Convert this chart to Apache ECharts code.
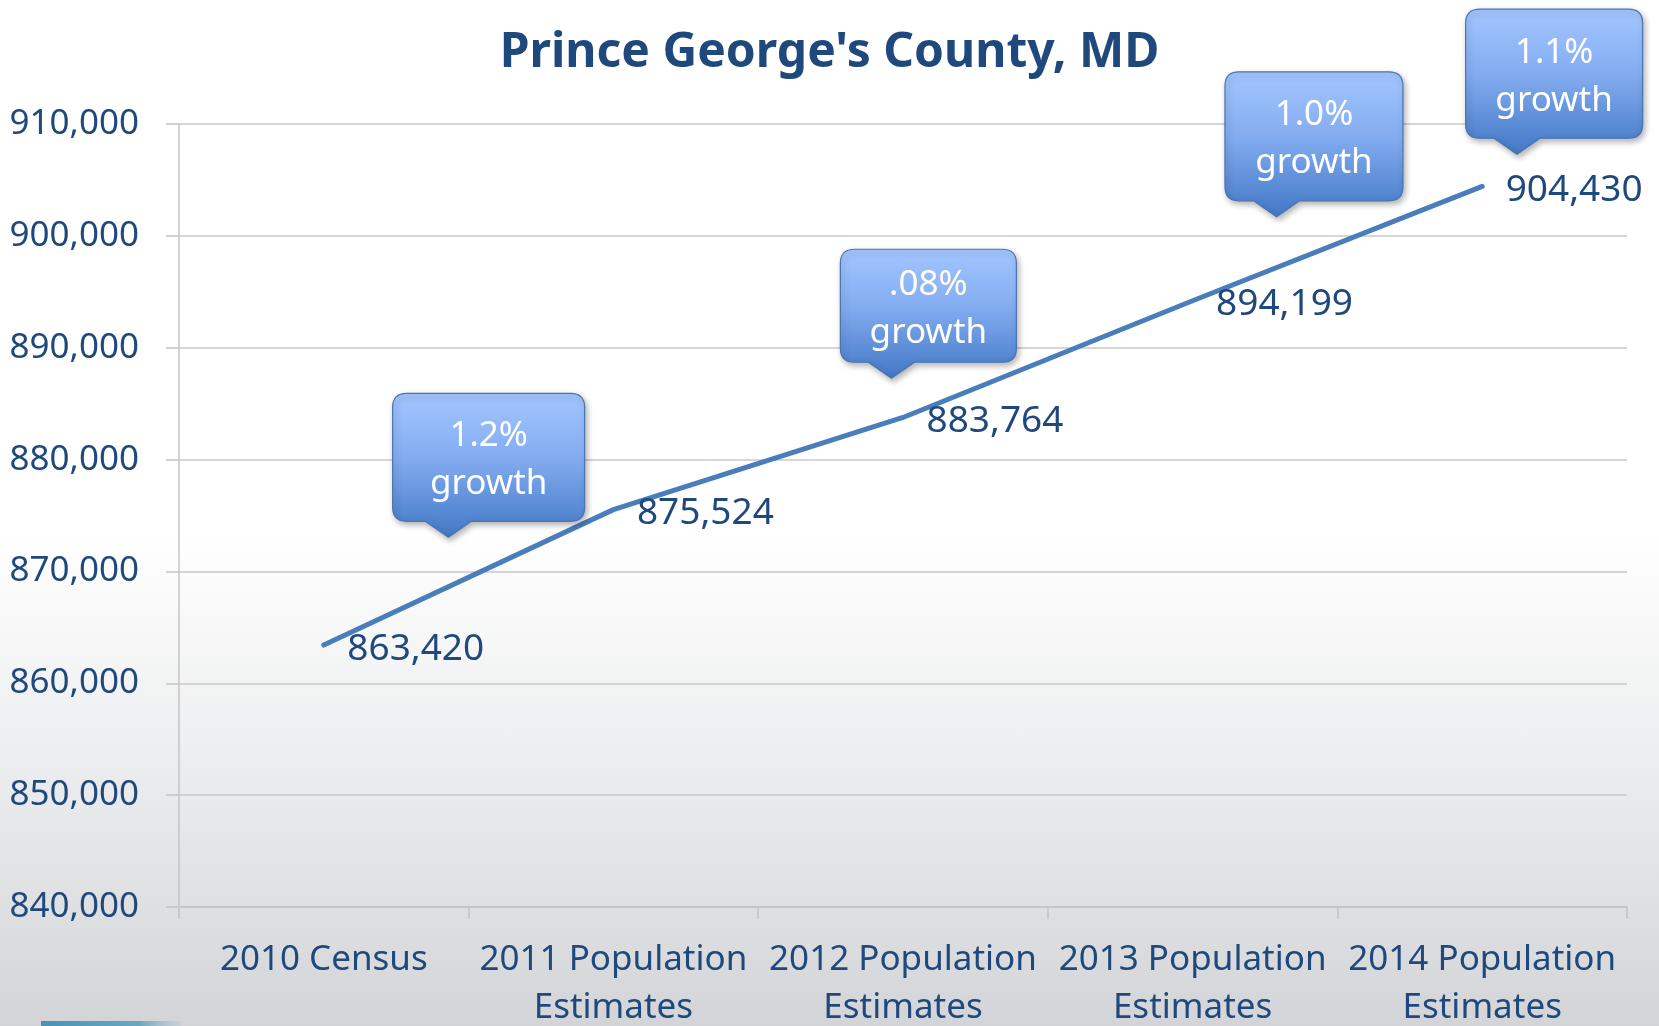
<!DOCTYPE html>
<html>
<head>
<meta charset="utf-8">
<title>Prince George's County, MD</title>
<script src="https://cdn.jsdelivr.net/npm/echarts@6/dist/echarts.min.js"></script>
<style>
  html, body { margin: 0; padding: 0; }
  body {
    width: 1659px;
    height: 1026px;
    background: linear-gradient(to bottom, #ffffff 0%, #ffffff 52%, #eeeff0 72%, #e1e2e4 86%, #d3d4d7 100%);
    overflow: hidden;
  }
  #chart { width: 1659px; height: 1026px; }
</style>
</head>
<body>
<div id="chart"></div>
<script>
// categories and population values
const categories = [
  '2010 Census',
  '2011 Population\nEstimates',
  '2012 Population\nEstimates',
  '2013 Population\nEstimates',
  '2014 Population\nEstimates'
];
const population = [863420, 875524, 883764, 894199, 904430];

// y axis range
const yMin = 840000;
const yMax = 910000;
const yStep = 10000;

// growth callouts: text, and where the pointer tip sits (category position, value)
const growthText = ['1.2%', '.08%', '1.0%', '1.1%'];
const calloutPos = [0.43, 1.96, 3.29, 4.12];
const calloutVal = [873050, 887270, 901700, 907300];

// callout box sizes (style)
const calloutSize = [[192, 128], [176, 113], [178, 129], [177, 129]];

const FONT = '"Noto Sans", "Open Sans", sans-serif';
const NAVY = '#1F497D';

const chart = echarts.init(document.getElementById('chart'));

// rounded box with a pointer under its left part
function calloutPath(tx, ty, w, h) {
  const r = 14, ph = 16, pw = 23;
  const x0 = tx - w * 0.29, x1 = x0 + w;
  const y1 = ty - ph, y0 = y1 - h;
  return [
    'M', x0 + r, y0, 'L', x1 - r, y0, 'Q', x1, y0, x1, y0 + r,
    'L', x1, y1 - r, 'Q', x1, y1, x1 - r, y1,
    'L', tx + pw, y1, 'L', tx, ty, 'L', tx - pw, y1,
    'L', x0 + r, y1, 'Q', x0, y1, x0, y1 - r,
    'L', x0, y0 + r, 'Q', x0, y0, x0 + r, y0, 'Z'
  ].join(' ');
}

const option = {
  animation: false,
  backgroundColor: 'transparent',
  textStyle: { fontFamily: FONT },
  title: {
    text: "Prince George's County, MD",
    left: 'center',
    top: 19,
    textStyle: { fontFamily: FONT, fontSize: 48, fontWeight: 'bold', color: NAVY, lineHeight: 58 }
  },
  grid: {
    left: 179, right: 32, top: 124, bottom: 119,
    containLabel: false,
    outerBoundsMode: 'none'
  },
  xAxis: [
    {
      type: 'category',
      data: categories,
      boundaryGap: true,
      axisLine: { lineStyle: { color: '#c4c4c4', width: 1.5 } },
      axisTick: { show: true, length: 12, lineStyle: { color: '#c4c4c4', width: 1.5 } },
      axisLabel: {
        color: NAVY, fontFamily: FONT, fontSize: 35, lineHeight: 48,
        margin: 29, interval: 0
      }
    },
    { type: 'value', min: -0.5, max: 4.5, show: false }
  ],
  yAxis: {
    type: 'value',
    min: yMin,
    max: yMax,
    interval: yStep,
    axisLine: { show: true, onZero: false, lineStyle: { color: '#c4c4c4', width: 1.5 } },
    axisTick: { show: true, length: 13, lineStyle: { color: '#c4c4c4', width: 1.5 } },
    splitLine: { lineStyle: { color: '#c8c8c8', width: 1.5 } },
    axisLabel: {
      color: NAVY, fontFamily: FONT, fontSize: 35, margin: 40,
      formatter: v => v.toLocaleString('en-US')
    }
  },
  graphic: [
    {
      type: 'rect',
      left: 41, bottom: 0,
      shape: { width: 140, height: 5 },
      style: {
        fill: new echarts.graphic.LinearGradient(0, 0, 1, 0, [
          { offset: 0, color: '#4a93b4' },
          { offset: 0.7, color: '#6aa6c2' },
          { offset: 1, color: 'rgba(160,190,205,0.2)' }
        ])
      },
      silent: true
    }
  ],
  series: [
    {
      type: 'line',
      data: population,
      symbol: 'circle',
      symbolSize: 1,
      itemStyle: { color: '#4A7EBB' },
      lineStyle: { color: '#4A7EBB', width: 5, cap: 'round' },
      label: {
        show: true,
        position: 'right',
        distance: 23,
        offset: [0, 4],
        color: NAVY,
        fontFamily: FONT,
        fontSize: 37,
        formatter: p => p.value.toLocaleString('en-US')
      },
      z: 3
    },
    {
      type: 'custom',
      xAxisIndex: 1,
      yAxisIndex: 0,
      z: 5,
      data: calloutPos.map((x, i) => [x, calloutVal[i]]),
      renderItem: (params, api) => {
        const i = params.dataIndex;
        const tip = api.coord([api.value(0), api.value(1)]);
        const [w, h] = calloutSize[i];
        const x0 = tip[0] - w * 0.29;
        const y0 = tip[1] - 16 - h;
        return {
          type: 'group',
          children: [
            {
              type: 'path',
              shape: { pathData: calloutPath(tip[0], tip[1], w, h) },
              style: {
                fill: new echarts.graphic.LinearGradient(0, 0, 0, 1, [
                  { offset: 0, color: '#a3c6ff' },
                  { offset: 0.45, color: '#83acf0' },
                  { offset: 1, color: '#4278c6' }
                ]),
                stroke: '#4a74b0',
                lineWidth: 1.2,
                shadowBlur: 6,
                shadowOffsetX: 2,
                shadowOffsetY: 3,
                shadowColor: 'rgba(0,0,0,0.3)'
              }
            },
            {
              type: 'text',
              style: {
                text: growthText[i] + '\ngrowth',
                x: x0 + w / 2,
                y: y0 + h / 2 + 3,
                align: 'center',
                verticalAlign: 'middle',
                fill: '#ffffff',
                font: '35px ' + FONT,
                lineHeight: 48
              }
            }
          ]
        };
      }
    }
  ]
};

chart.setOption(option);
</script>
</body>
</html>
